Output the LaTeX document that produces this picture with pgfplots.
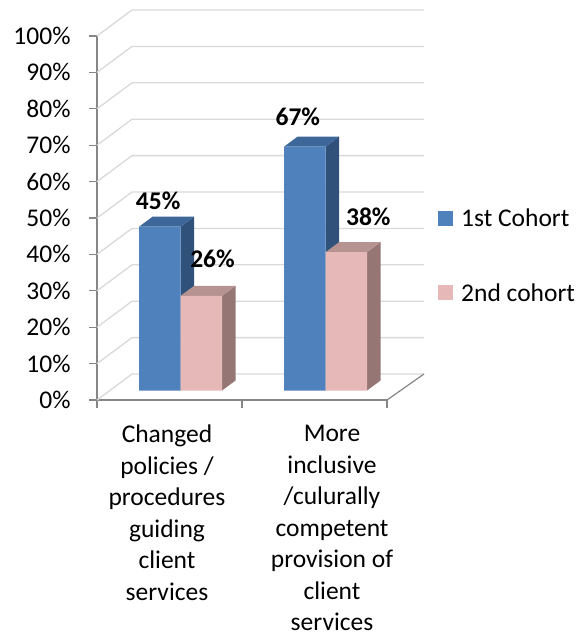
\documentclass[border=0pt]{standalone}
\usepackage{fontspec}
\setmainfont{Carlito}
\usepackage{pgfplots}
\pgfplotsset{compat=1.18}
\definecolor{gridgray}{HTML}{D9D9D9}
\definecolor{axisgray}{HTML}{868686}
\definecolor{blueF}{HTML}{4F81BD}
\definecolor{blueT}{HTML}{3D6699}
\definecolor{blueS}{HTML}{30517A}
\definecolor{pinkF}{HTML}{E6B9B8}
\definecolor{pinkT}{HTML}{B69291}
\definecolor{pinkS}{HTML}{967675}
\newcommand\fs{\fontsize{25.5}{31.5}\selectfont}
% geometry of the 3D bars (axis units)
\def\base{2.6}\def\ddx{13.5}\def\ddy{2.75}\def\bw{41.5}
% data values
\def\firstA{45}\def\secondA{26}
\def\firstB{67}\def\secondB{38}
\newcommand\threedbar[5]{% x0, value, front, top, side
  \pgfmathsetmacro\xa{#1}%
  \pgfmathsetmacro\xb{#1+\bw}%
  \pgfmathsetmacro\xc{#1+\bw+\ddx}%
  \pgfmathsetmacro\xd{#1+\ddx}%
  \pgfmathsetmacro\yt{\base+#2}%
  \pgfmathsetmacro\ytb{\base+#2+\ddy}%
  \pgfmathsetmacro\yb{\base}%
  \pgfmathsetmacro\ybb{\base+\ddy}%
  \edef\tmp{\noexpand\addplot[forget plot, fill=#5, draw=none] coordinates {(\xb,\yb) (\xc,\ybb) (\xc,\ytb) (\xb,\yt) (\xb,\yb)};}\tmp
  \edef\tmp{\noexpand\addplot[forget plot, fill=#4, draw=none] coordinates {(\xa,\yt) (\xd,\ytb) (\xc,\ytb) (\xb,\yt) (\xa,\yt)};}\tmp
  \edef\tmp{\noexpand\addplot[forget plot, fill=#3, draw=none] coordinates {(\xa,\yb) (\xb,\yb) (\xb,\yt) (\xa,\yt) (\xa,\yb)};}\tmp
}
\begin{document}
\begin{tikzpicture}
\useasboundingbox (0pt,0pt) rectangle (582pt,-639pt);
\begin{axis}[
  at={(97pt,-400pt)}, anchor=south west,
  scale only axis, width=290pt, height=364pt,
  xmin=0, xmax=290, ymin=0, ymax=100,
  clip=false,
  axis x line=bottom, axis y line=left,
  axis line style={-, draw=axisgray, line width=1.2pt},
  xtick={0,145,290}, xticklabels={,,},
  ytick={0,10,...,100},
  yticklabels={0\%,10\%,20\%,30\%,40\%,50\%,60\%,70\%,80\%,90\%,100\%},
  tick align=outside, major tick length=7.5pt,
  tick style={draw=axisgray, line width=1.2pt},
  yticklabel style={font=\fs, anchor=east, inner sep=0pt, xshift=-18.8pt},
  legend style={at={(1.176,0.396)}, anchor=west, draw=none, fill=none,
    font=\fs, inner sep=0pt, row sep=55pt, nodes={inner sep=0pt}},
  legend cell align=left,
  legend image code/.code={\fill[#1] (0pt,-7.5pt) rectangle (15pt,7.5pt); \path (23pt,0pt);},
]
% walls (left wall diagonals + back wall gridlines)
\addplot[forget plot, gridgray, line width=1.3pt] coordinates {(0,0) (35,7.14) (327,7.14)};
\addplot[forget plot, gridgray, line width=1.3pt] coordinates {(0,10) (35,17.14) (327,17.14)};
\addplot[forget plot, gridgray, line width=1.3pt] coordinates {(0,20) (35,27.14) (327,27.14)};
\addplot[forget plot, gridgray, line width=1.3pt] coordinates {(0,30) (35,37.14) (327,37.14)};
\addplot[forget plot, gridgray, line width=1.3pt] coordinates {(0,40) (35,47.14) (327,47.14)};
\addplot[forget plot, gridgray, line width=1.3pt] coordinates {(0,50) (35,57.14) (327,57.14)};
\addplot[forget plot, gridgray, line width=1.3pt] coordinates {(0,60) (35,67.14) (327,67.14)};
\addplot[forget plot, gridgray, line width=1.3pt] coordinates {(0,70) (35,77.14) (327,77.14)};
\addplot[forget plot, gridgray, line width=1.3pt] coordinates {(0,80) (35,87.14) (327,87.14)};
\addplot[forget plot, gridgray, line width=1.3pt] coordinates {(0,90) (35,97.14) (327,97.14)};
\addplot[forget plot, gridgray, line width=1.3pt] coordinates {(0,100) (35,107.14) (327,107.14)};
% floor right edge
\addplot[forget plot, axisgray, line width=1.2pt] coordinates {(290,0) (327,7.14)};
% bars
\threedbar{42}{\firstA}{blueF}{blueT}{blueS}
\threedbar{83.5}{\secondA}{pinkF}{pinkT}{pinkS}
\threedbar{187}{\firstB}{blueF}{blueT}{blueS}
\threedbar{228.5}{\secondB}{pinkF}{pinkT}{pinkS}
% legend
\addlegendimage{fill=blueF, draw=none}
\addlegendentry{1st Cohort}
\addlegendimage{fill=pinkF, draw=none}
\addlegendentry{2nd cohort}
% value labels
\node[font=\fs\bfseries, inner sep=0pt] at (axis cs:61.2,54.8) {45\%};
\node[font=\fs\bfseries, inner sep=0pt] at (axis cs:115.5,38.9) {26\%};
\node[font=\fs\bfseries, inner sep=0pt] at (axis cs:200.8,77.7) {67\%};
\node[font=\fs\bfseries, inner sep=0pt] at (axis cs:271.3,50.4) {38\%};
% category labels
\node[anchor=north, align=center, font=\fs, inner sep=0pt, yshift=-25pt] at (axis cs:70,0)
  {Changed\\policies /\\procedures\\guiding\\client\\services};
\node[anchor=north, align=center, font=\fs, inner sep=0pt, yshift=-25pt] at (axis cs:235,0)
  {More\\inclusive\\/culurally\\competent\\provision of\\client\\services};
\end{axis}
\end{tikzpicture}
\end{document}
